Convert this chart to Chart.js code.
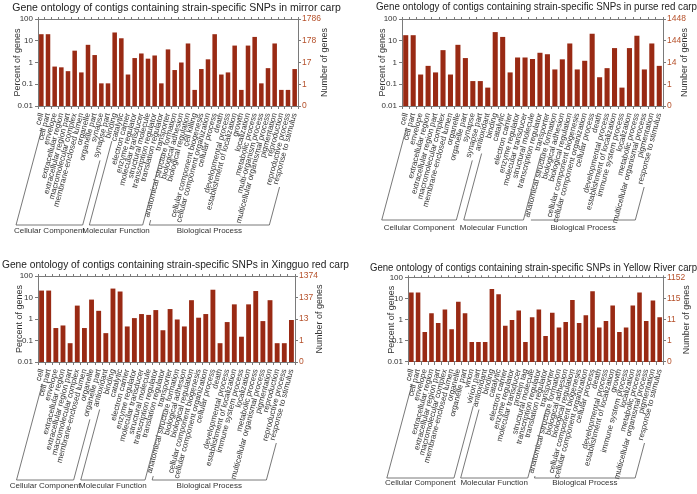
<!DOCTYPE html>
<html><head><meta charset="utf-8">
<script src="https://cdn.jsdelivr.net/npm/chart.js@4.4.1/dist/chart.umd.min.js"></script>
<style>
html,body{margin:0;padding:0;background:#fff;}
body{width:697px;height:494px;position:relative;overflow:hidden;}
canvas{position:absolute;}
</style></head>
<body>
<canvas id="c1" width="349" height="247" style="left:0;top:0"></canvas>
<canvas id="c2" width="347" height="247" style="left:350px;top:0"></canvas>
<canvas id="c3" width="349" height="237" style="left:0;top:257px"></canvas>
<canvas id="c4" width="347" height="237" style="left:350px;top:257px"></canvas>
<script>
// ---------- DATA ----------
const groupNames = ["Cellular Component", "Molecular Function", "Biological Process"];
const percentTicks = [0.01, 0.1, 1, 10, 100];

const mirrorTitle = "Gene ontology of contigs containing strain-specific SNPs in mirror carp";
const mirrorLabels = ["cell","cell part","envelope","extracellular region","extracellular region part","macromolecular complex","membrane-enclosed lumen","organelle","organelle part","synapse","synapse part","binding","catalytic","electron carrier","enzyme regulator","molecular transducer","structural molecule","transcription regulator","translation regulator","transporter","anatomical structure formation","biological adhesion","biological regulation","cell killing","cellular component biogenesis","cellular component organization","cellular process","death","developmental process","establishment of localization","growth","localization","metabolic process","multi-organism process","multicellular organismal process","pigmentation","reproduction","reproductive process","response to stimulus"];
const mirrorPercent = [20,20,0.65,0.6,0.4,3.5,0.35,6.5,2.2,0.11,0.11,24,13,0.28,1.6,2.6,1.5,2.1,0.11,4,0.45,1,7.5,0.055,0.5,1.4,20,0.28,0.35,6,0.055,6,15,0.11,0.55,7.5,0.055,0.055,0.5];
const mirrorGroupSizes = [11, 9, 19];
const mirrorCountTicks = ["0","1","17","178","1786"];

const purseTitle = "Gene ontology of contigs containing strain-specific SNPs in purse red carp";
const purseLabels = ["cell","cell part","envelope","extracellular region","extracellular region part","macromolecular complex","membrane-enclosed lumen","organelle","organelle part","synapse","synapse part","antioxidant","binding","catalytic","electron carrier","enzyme regulator","molecular transducer","structural molecule","transcription regulator","transporter","anatomical structure formation","biological adhesion","biological regulation","cellular component biogenesis","cellular component organization","cellular process","death","developmental process","establishment of localization","immune system process","localization","metabolic process","multicellular organismal process","pigmentation","response to stimulus"];
const pursePercent = [18,18,0.28,0.7,0.35,3.7,0.28,6.5,1.6,0.14,0.14,0.07,25,15,0.35,1.7,1.7,1.45,2.8,2.4,0.48,1.4,7.5,0.48,1.2,21,0.21,0.55,4.6,0.07,4.6,17,0.48,7.5,0.7];
const purseGroupSizes = [11, 9, 15];
const purseCountTicks = ["0","1","14","144","1448"];

const xingguoTitle = "Gene ontology of contigs containing strain-specific SNPs in Xingguo red carp";
const xingguoLabels = ["cell","cell part","envelope","extracellular region","extracellular region part","macromolecular complex","membrane-enclosed lumen","organelle","organelle part","antioxidant","binding","catalytic","electron carrier","enzyme regulator","molecular transducer","structural molecule","transcription regulator","translation regulator","transporter","anatomical structure formation","biological adhesion","biological regulation","cellular component biogenesis","cellular component organization","cellular process","death","developmental process","establishment of localization","immune system process","localization","metabolic process","multicellular organismal process","pigmentation","reproduction","reproductive process","response to stimulus"];
const xingguoPercent = [21,21,0.38,0.5,0.075,4.2,0.38,8,2.4,0.22,26,19,0.45,1.1,1.7,1.55,2.6,0.3,2.9,0.95,0.45,7.5,1.15,1.7,23,0.075,0.72,4.8,0.15,4.8,20,0.8,7.5,0.075,0.075,0.9];
const xingguoGroupSizes = [9, 10, 17];
const xingguoCountTicks = ["0","1","13","137","1374"];

const yellowTitle = "Gene ontology of contigs containing strain-specific SNPs in Yellow River carp";
const yellowLabels = ["cell","cell part","envelope","extracellular region","extracellular region part","macromolecular complex","membrane-enclosed lumen","organelle","organelle part","virion","virion part","antioxidant","binding","catalytic","electron carrier","enzyme regulator","molecular transducer","protein tag","structural molecule","transcription regulator","translation regulator","transporter","anatomical structure formation","biological adhesion","biological regulation","cellular component biogenesis","cellular component organization","cellular process","death","developmental process","establishment of localization","growth","immune system process","localization","metabolic process","multicellular organismal process","pigmentation","response to stimulus"];
const yellowPercent = [19,19,0.26,2,0.7,3,0.35,7,2,0.087,0.087,0.087,28,16,0.52,0.95,2.7,0.087,1.3,3,0.17,2.1,0.43,0.78,8.5,0.7,1.6,22,0.43,0.87,4.7,0.26,0.43,4.7,19,0.87,8,1.3];
const yellowGroupSizes = [11, 11, 16];
const yellowCountTicks = ["0","1","11","115","1152"];

// ---------- STYLE ----------
const FAMILY = "'Liberation Sans', Arial, sans-serif";
const BAR = "#992a14";
const AXIS = "#7a7a7a";
const COUNT_COLOR = "#b5502a";
const LABEL_FONT = 8;
const ROT = 75;

Chart.defaults.font.family = FAMILY;
Chart.defaults.animation = false;

const groupPlugin = {
  id: 'goGroups',
  afterDraw(chart, args, o) {
    const ctx = chart.ctx, xs = chart.scales.x, ca = chart.chartArea;
    const th = xs.labelRotation * Math.PI / 180;
    const dx = -Math.cos(th), dy = Math.sin(th);
    const lh = LABEL_FONT * 1.2;
    const y0 = xs.top + 3 + 3;
    ctx.save();
    ctx.font = LABEL_FONT + "px " + FAMILY;
    const edge = (i) => {
      const px = xs.getPixelForTick(i) + Math.sin(th) * lh / 2;
      const py = y0 + Math.cos(th) * lh / 2;
      const w = ctx.measureText(chart.data.labels[i]).width + 3;
      let sx = px + dx * w, sy = py + dy * w;
      if (sy > o.baseline) { sy = o.baseline; sx = px + dx * (o.baseline - py) / dy; }
      const t = (o.baseline - sy) / dy;
      return {sx, sy, ex: sx + dx * t};
    };
    ctx.strokeStyle = "#555"; ctx.lineWidth = 0.8;
    ctx.fillStyle = "#333";
    ctx.textAlign = "center"; ctx.textBaseline = "middle";
    let start = 0;
    o.sizes.forEach((n, gi) => {
      const a = edge(start), b = edge(start + n - 1);
      ctx.beginPath();
      ctx.moveTo(a.sx, a.sy); ctx.lineTo(a.ex, o.baseline);
      ctx.lineTo(b.ex, o.baseline); ctx.lineTo(b.sx, b.sy);
      ctx.stroke();
      ctx.fillText(groupNames[gi], (a.ex + b.ex) / 2, o.titleY);
      start += n;
    });
    // right axis title (reads bottom to top)
    ctx.font = "9px " + FAMILY;
    ctx.translate(o.rightTitleX, (ca.top + ca.bottom) / 2);
    ctx.rotate(-Math.PI / 2);
    ctx.fillText("Number of genes", 0, 0);
    ctx.restore();
  }
};

function makePanel(id, title, labels, values, sizes, countTicks, L) {
  new Chart(document.getElementById(id), {
    type: 'bar',
    data: {
      labels: labels,
      datasets: [{ data: values, backgroundColor: BAR, borderWidth: 0,
                   barPercentage: 0.68, categoryPercentage: 1.0, xAxisID: 'x', yAxisID: 'y' }]
    },
    plugins: [groupPlugin],
    options: {
      responsive: false,
      devicePixelRatio: 1,
      layout: { padding: { left: L.padL, right: 0, top: 0, bottom: 0 } },
      plugins: {
        legend: { display: false },
        tooltip: { enabled: false },
        title: { display: true, text: title, color: '#222',
                 font: { size: 10.5, weight: 'normal' },
                 padding: { top: L.titleTop, bottom: L.titleBottom } },
        goGroups: { sizes: sizes, baseline: L.baseline, titleY: L.groupTitleY, rightTitleX: L.rightTitleX }
      },
      scales: {
        x: {
          type: 'category', position: 'bottom', offset: true,
          grid: { drawOnChartArea: false, tickLength: 3, color: AXIS },
          border: { color: AXIS },
          ticks: { autoSkip: false, minRotation: ROT, maxRotation: ROT, padding: 3,
                   font: { size: LABEL_FONT }, color: '#333' },
          afterFit: s => { s.height = L.xHeight; }
        },
        x2: {
          type: 'category', position: 'top', offset: true, labels: labels,
          grid: { drawOnChartArea: false, tickLength: 2, color: AXIS },
          border: { color: AXIS },
          ticks: { display: false },
          afterFit: s => { s.height = 3; }
        },
        y: {
          type: 'logarithmic', position: 'left', min: 0.01, max: 100,
          afterBuildTicks: s => { s.ticks = percentTicks.map(v => ({ value: v })); },
          grid: { drawOnChartArea: false, tickLength: 3, color: AXIS },
          border: { color: AXIS },
          ticks: { font: { size: 8 }, color: '#333', padding: 2, callback: v => String(v) },
          title: { display: true, text: 'Percent of genes', color: '#333',
                   font: { size: 9 }, padding: { top: L.leftTitlePad, bottom: 0 } },
          afterFit: s => { s.width = L.leftW; }
        },
        y2: {
          type: 'logarithmic', position: 'right', min: 0.01, max: 100,
          afterBuildTicks: s => { s.ticks = percentTicks.map(v => ({ value: v })); },
          grid: { drawOnChartArea: false, tickLength: 3, color: AXIS },
          border: { color: AXIS },
          ticks: { font: { size: 8.5 }, color: COUNT_COLOR, padding: 1,
                   callback: (v, i) => countTicks[i] },
          afterFit: s => { s.width = L.rightW; }
        }
      }
    }
  });
}

makePanel('c1', mirrorTitle, mirrorLabels, mirrorPercent, mirrorGroupSizes, mirrorCountTicks,
  { padL: 4, leftW: 34, rightW: 51, titleTop: 1.7, titleBottom: 1.7, xHeight: 141,
    leftTitlePad: 8.6, rightTitleX: 325, baseline: 225, groupTitleY: 231 });
makePanel('c2', purseTitle, purseLabels, pursePercent, purseGroupSizes, purseCountTicks,
  { padL: 26, leftW: 26, rightW: 34, titleTop: 0.7, titleBottom: 2.7, xHeight: 141,
    leftTitlePad: 1.6, rightTitleX: 335, baseline: 220, groupTitleY: 227.5 });
makePanel('c3', xingguoTitle, xingguoLabels, xingguoPercent, xingguoGroupSizes, xingguoCountTicks,
  { padL: 2, leftW: 36, rightW: 54, titleTop: 1.7, titleBottom: 1.7, xHeight: 132,
    leftTitlePad: 12.6, rightTitleX: 320, baseline: 223, groupTitleY: 229 });
makePanel('c4', yellowTitle, yellowLabels, yellowPercent, yellowGroupSizes, yellowCountTicks,
  { padL: 20, leftW: 38, rightW: 34, titleTop: 4.7, titleBottom: 0, xHeight: 132,
    leftTitlePad: 16.6, rightTitleX: 337, baseline: 221, groupTitleY: 226 });
</script>
</body></html>
